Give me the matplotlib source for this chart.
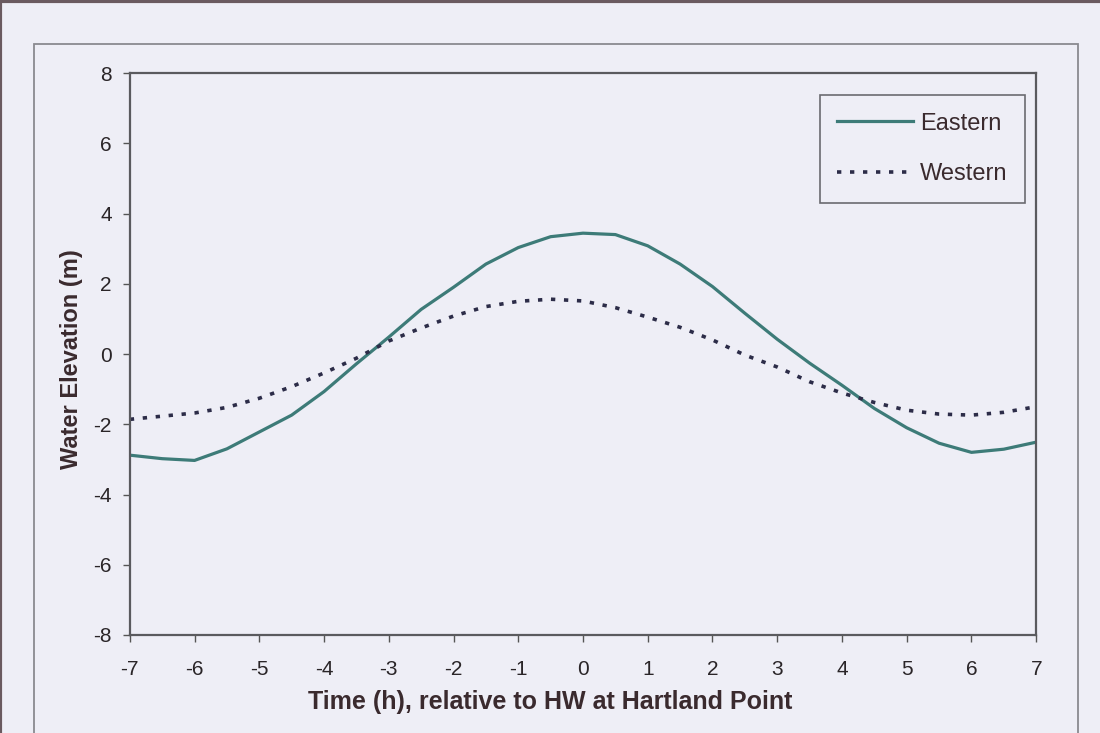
import matplotlib.pyplot as plt
from matplotlib.patches import Rectangle

plt.rcParams['font.family'] = ['Liberation Sans', 'DejaVu Sans']
plt.rcParams['axes.unicode_minus'] = False  # plain hyphen like the original

# time relative to HW at Hartland Point (h)
time_h = [-7, -6.5, -6, -5.5, -5, -4.5, -4, -3.5, -3, -2.5, -2, -1.5, -1, -0.5, 0,
          0.5, 1, 1.5, 2, 2.5, 3, 3.5, 4, 4.5, 5, 5.5, 6, 6.5, 7]
# water elevation (m)
eastern = [-2.88, -2.98, -3.03, -2.70, -2.22, -1.74, -1.07, -0.28, 0.48, 1.27, 1.90, 2.56,
           3.03, 3.34, 3.44, 3.40, 3.08, 2.56, 1.92, 1.16, 0.42, -0.26, -0.89, -1.55,
           -2.10, -2.54, -2.80, -2.71, -2.51]
western = [-1.86, -1.77, -1.68, -1.52, -1.26, -0.93, -0.54, -0.12, 0.37, 0.74, 1.08, 1.35,
           1.50, 1.56, 1.51, 1.32, 1.05, 0.76, 0.40, -0.03, -0.37, -0.79, -1.11, -1.38,
           -1.60, -1.71, -1.74, -1.66, -1.50]

x_ticks = list(range(-7, 8))
y_ticks = [-8, -6, -4, -2, 0, 2, 4, 6, 8]

bg = '#eeeef6'
txt = '#3a2a2e'
fig = plt.figure(figsize=(11, 7.33), dpi=100, facecolor=bg)

# outer chart frame and scan edge
fig.patches.append(Rectangle((0.031, -0.02), 0.949, 0.96, transform=fig.transFigure,
                             fill=False, edgecolor='#8a8a90', lw=1.3))
fig.patches.append(Rectangle((0.0, -0.02), 1.2, 1.018, transform=fig.transFigure,
                             fill=False, edgecolor='#6a5a60', lw=3))

ax = fig.add_axes([0.118, 0.1337, 0.824, 0.7667])
ax.set_facecolor(bg)

ax.plot(time_h, eastern, color='#3d7b78', lw=2.3, label='Eastern', solid_joinstyle='round')
ax.plot(time_h, western, color='#2c2c48', lw=2.6, linestyle=(0, (1.2, 2.4)), label='Western')

ax.set_xlim(-7, 7)
ax.set_ylim(-8, 8)
ax.set_xticks(x_ticks)
ax.set_yticks(y_ticks)
ax.tick_params(labelsize=15, length=5, width=1, colors='#555555', labelcolor='#2a2528')
ax.tick_params(axis='x', pad=13)
ax.tick_params(axis='y', pad=8)
for s in ax.spines.values():
    s.set_color('#5a5a5e')
    s.set_linewidth(1.6)

ax.set_xlabel('Time (h), relative to HW at Hartland Point', fontsize=18,
              fontweight='bold', color=txt)
ax.xaxis.set_label_coords(0.464, -0.098)
ax.set_ylabel('Water Elevation (m)', fontsize=17, fontweight='bold', color=txt)
ax.yaxis.set_label_coords(-0.052, 0.49)

leg = ax.legend(loc='upper right', bbox_to_anchor=(0.988, 0.961), borderaxespad=0,
                fontsize=17, handlelength=3.2, labelspacing=1.2, handletextpad=0.3,
                fancybox=False, framealpha=1, borderpad=0.75)
leg.get_frame().set_facecolor(bg)
leg.get_frame().set_edgecolor('#6a6a70')
leg.get_frame().set_linewidth(1.2)
for t in leg.get_texts():
    t.set_color(txt)

plt.savefig('out.png', dpi=100, facecolor=bg)
